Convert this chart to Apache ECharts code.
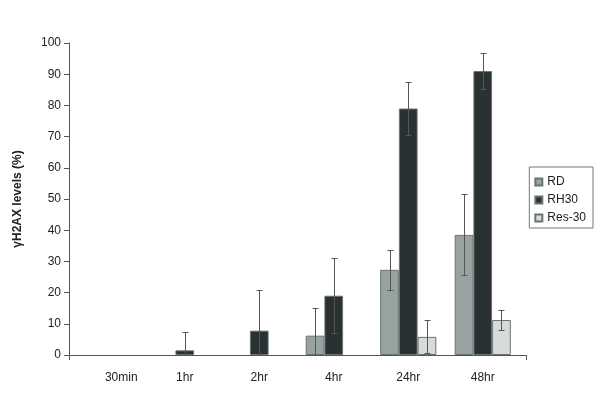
<!DOCTYPE html>
<html><head><meta charset="utf-8">
<script src="https://cdn.jsdelivr.net/npm/echarts@6/dist/echarts.min.js"></script>
<style>html,body{margin:0;padding:0;background:#fff}#c{width:600px;height:409px}</style>
</head><body><div id="c"></div>
<script>
const categories = ['30min','1hr','2hr','4hr','24hr','48hr'];
const seriesNames = ['RD','RH30','Res-30'];
const rdValues   = [null, null, null, 6.2, 27.3, 38.5];
const rh30Values = [null, 1.5, 7.8, 19.0, 79.0, 91.0];
const res30Values= [null, null, null, null, 5.8, 11.2];
const rdErr   = [null, null, null, 9.0, 6.4, 13.0];
const rh30Err = [null, 5.8, 13.0, 12.0, 8.5, 5.8];
const res30Err= [null, null, null, null, 5.3, 3.3];
const yTicks = [0,10,20,30,40,50,60,70,80,90,100];

const colors = ['#96a3a0','#2a3132','#d5dcda'];
const BW = 18.7;
const chart = echarts.init(document.getElementById('c'), null, {renderer:'canvas'});

function errSeries(vals, errs, k){
  const data = vals.map((v,i)=> v==null||errs[i]==null ? null : [i, v, errs[i]]).filter(d=>d);
  return {
    type:'custom', z:5, silent:true, xAxisIndex:1, yAxisIndex:1,
    data: data,
    renderItem: function(params, api){
      const i = api.value(0), v = api.value(1), e = api.value(2);
      const center = api.coord([i, v]);
      const x = Math.round(center[0] + (k-1)*BW) + 0.5;
      const top = Math.round(api.coord([i, Math.min(100, v+e)])[1]) + 0.5;
      const bot = Math.round(api.coord([i, Math.max(0, v-e)])[1]) + 0.5;
      const c = 3;
      const children = [
        {type:'line', shape:{x1:x,y1:top,x2:x,y2:bot}, style:{stroke:'#555',lineWidth:1}},
        {type:'line', shape:{x1:x-c,y1:top,x2:x+c,y2:top}, style:{stroke:'#555',lineWidth:1}}
      ];
      if (v-e > 0) children.push({type:'line', shape:{x1:x-c,y1:bot,x2:x+c,y2:bot}, style:{stroke:'#555',lineWidth:1}});
      return {type:'group', children};
    }
  };
}

const barStyle = (c)=>({color:c, borderColor:'#6b7371', borderWidth:1});

chart.setOption({
  animation:false,
  textStyle:{fontFamily:'Liberation Sans, Arial, sans-serif'},
  grid:[
    {left:69, right:74, top:43, bottom:54},
    {left:73, right:80, top:43, bottom:54}
  ],
  legend:{
    orient:'vertical', right:7, top:167,
    data:seriesNames,
    itemWidth:7, itemHeight:7, itemGap:6,
    borderColor:'#777', borderWidth:1, padding:[9,7,4,5],
    textStyle:{fontSize:12, color:'#222'},
    icon:'rect'
  },
  xAxis:[
    {
      type:'value', gridIndex:0, min:0, max:1, interval:1,
      axisLine:{show:true, onZero:false, lineStyle:{color:'#555'}},
      axisTick:{show:true, length:5, lineStyle:{color:'#555'}},
      axisLabel:{show:false}, splitLine:{show:false}
    },
    {
      type:'category', gridIndex:1, data:categories,
      axisLine:{show:false},
      axisTick:{show:false},
      axisLabel:{
        interval:0,
        color:'#222', fontSize:12, margin:17,
        formatter:function(v, i){ return i===0 ? '{first|'+v+'}' : v; },
        rich:{first:{fontSize:12, color:'#222', padding:[0,0,0,22]}}
      }
    }
  ],
  yAxis:[
    {
      type:'value', gridIndex:0, min:0, max:100, interval:10,
      name:'γH2AX levels (%)', nameLocation:'middle', nameGap:45, nameMoveOverlap:false,
      nameTextStyle:{fontSize:12, fontWeight:'bold', color:'#222'},
      axisLine:{show:true, lineStyle:{color:'#555'}},
      axisTick:{show:true, length:5, inside:false, lineStyle:{color:'#555'}},
      axisLabel:{color:'#222', fontSize:12, margin:8},
      splitLine:{show:false}
    },
    {
      type:'value', gridIndex:1, min:0, max:100, interval:10, show:false, splitLine:{show:false}
    }
  ],
  series:[
    {name:'RD', type:'bar', xAxisIndex:1, yAxisIndex:1, data:rdValues, barWidth:BW, barGap:'0%', itemStyle:barStyle(colors[0])},
    {name:'RH30', type:'bar', xAxisIndex:1, yAxisIndex:1, data:rh30Values, barWidth:BW, barGap:'0%', itemStyle:barStyle(colors[1])},
    {name:'Res-30', type:'bar', xAxisIndex:1, yAxisIndex:1, data:res30Values, barWidth:BW, barGap:'0%', itemStyle:barStyle(colors[2])},
    errSeries(rdValues, rdErr, 0),
    errSeries(rh30Values, rh30Err, 1),
    errSeries(res30Values, res30Err, 2)
  ]
});
</script></body></html>
